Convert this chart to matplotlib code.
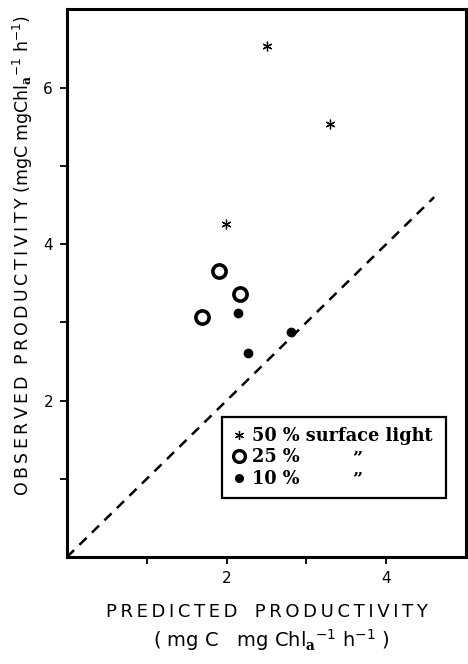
import matplotlib
matplotlib.use("Agg")
import matplotlib.pyplot as plt
from matplotlib.lines import Line2D

# ── data (mgC mgChl_a^-1 h^-1) ──
pred_50 = [2.50, 3.30, 1.99]
obs_50 = [6.53, 5.53, 4.26]

pred_25 = [1.90, 2.17, 1.69]
obs_25 = [3.65, 3.36, 3.07]

pred_10 = [2.14, 2.81, 2.27]
obs_10 = [3.12, 2.87, 2.61]

one_to_one = [0, 4.6]

legend_labels = ["50 % surface light", "25 %", "10 %"]
ditto = "\u201d"


def spaced(s, gap="\u2009"):
    # the original typesetting is letter-spaced
    return gap.join(s)


plt.rcParams["font.family"] = ["DejaVu Sans"]
plt.rcParams["mathtext.fontset"] = "custom"
plt.rcParams["mathtext.rm"] = "DejaVu Sans"
plt.rcParams["mathtext.bf"] = "DejaVu Serif:bold"

fig = plt.figure(figsize=(4.68, 6.64), dpi=100)
ax = fig.add_axes([0.143, 0.161, 0.853, 0.825])

# 1:1 line
ax.plot(one_to_one, one_to_one, color="black", lw=1.8, ls=(0, (4, 3)))

ax.plot(pred_50, obs_50, ls="none", marker=(6, 2, 0), ms=7, mew=0.9, color="black")
ax.plot(pred_25, obs_25, ls="none", marker="o", ms=9.5, mew=2.6,
        mfc="white", mec="black")
ax.plot(pred_10, obs_10, ls="none", marker="o", ms=6, color="black")

ax.set_xlim(0, 5)
ax.set_ylim(0, 7)
ax.set_xticks([2, 4])
ax.set_xticks([1, 3], minor=True)
ax.set_yticks([2, 4, 6])
ax.set_yticks([1, 3, 5], minor=True)
ax.tick_params(which="both", direction="out", length=5, width=1.3,
               labelsize=11, pad=5)

for s in ax.spines.values():
    s.set_linewidth(2.2)

ax.set_xlabel(spaced("PREDICTED") + "   " + spaced("PRODUCTIVITY"), fontsize=13)
ax.xaxis.set_label_coords(0.5, -0.084)
fig.text(0.58, 0.036,
         r"( mg C   mg Chl$_{\mathbf{a}}$$^{-1}$ h$^{-1}$ )",
         ha="center", va="center", fontsize=14)
ax.set_ylabel(spaced("OBSERVED") + "  " + spaced("PRODUCTIVITY")
              + r" (mgC mgChl$_{\mathbf{a}}$$^{-1}$ h$^{-1}$)", fontsize=12.5)
ax.yaxis.set_label_coords(-0.08, 0.55)

handles = [
    Line2D([], [], ls="none", marker=(6, 2, 0), ms=6.5, mew=0.9, color="black"),
    Line2D([], [], ls="none", marker="o", ms=8.5, mew=2.4, mfc="white", mec="black"),
    Line2D([], [], ls="none", marker="o", ms=5.5, color="black"),
]
leg = ax.legend(handles, legend_labels, loc="lower left",
                bbox_to_anchor=(1.94, 0.76, 2.81, 0.98),
                bbox_transform=ax.transData, mode="expand",
                frameon=True, fancybox=False, edgecolor="black", framealpha=1,
                handlelength=0.8, handletextpad=0.35, labelspacing=0.2,
                borderpad=0.55, borderaxespad=0,
                prop={"family": "DejaVu Serif", "weight": "bold", "size": 12.8})
leg.get_frame().set_linewidth(1.6)

# ditto marks for the 25 % and 10 % rows
fig.canvas.draw()
rows = leg.get_texts()
for t in rows[1:]:
    bb = t.get_window_extent().transformed(ax.transData.inverted())
    ax.text(3.63, (bb.y0 + bb.y1) / 2, ditto, ha="center", va="center",
            family="DejaVu Serif", weight="bold", fontsize=12.5, zorder=10)

fig.savefig("out.png", dpi=100)
